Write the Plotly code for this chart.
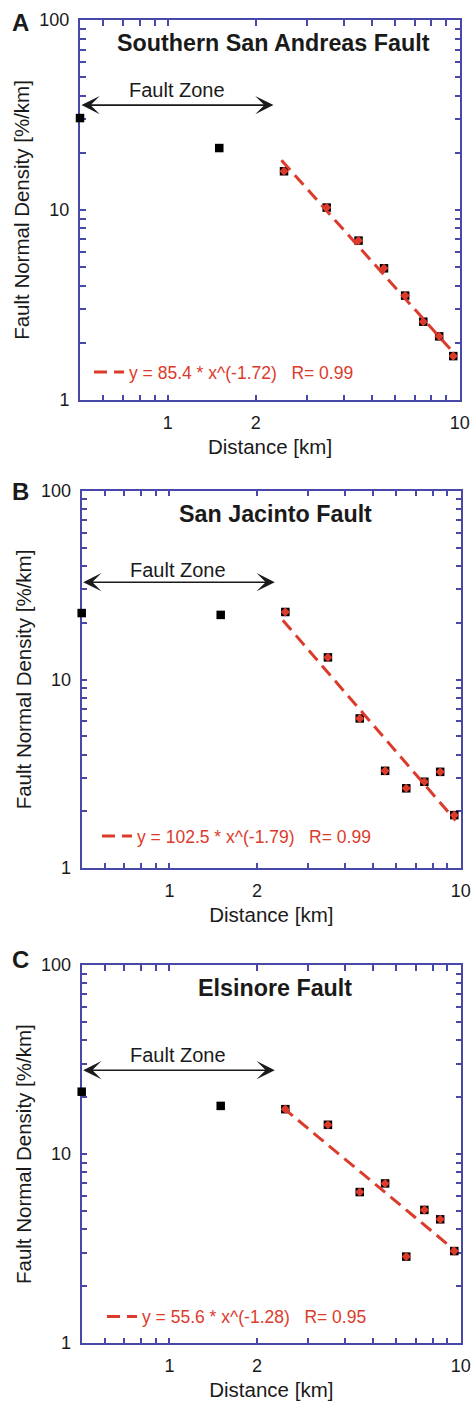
import math
import plotly.graph_objects as go

W, H = 471, 1401

# ---------------- data ----------------
distance_km = [0.5, 1.5, 2.5, 3.5, 4.5, 5.5, 6.5, 7.5, 8.5, 9.5]
density_san_andreas = [30.5, 21.2, 16.0, 10.3, 6.9, 4.93, 3.54, 2.58, 2.16, 1.70]
density_san_jacinto = [22.5, 22.0, 22.8, 13.1, 6.22, 3.28, 2.65, 2.87, 3.24, 1.91]
density_elsinore = [21.4, 18.0, 17.3, 14.3, 6.3, 7.0, 2.87, 5.07, 4.52, 3.07]
fit_start_index = 2  # points used in the fit (x >= 2.5 km)

panel_titles = ["Southern San Andreas Fault", "San Jacinto Fault", "Elsinore Fault"]
panel_letters = ["A", "B", "C"]
fit_coef = [85.4, 102.5, 55.6]
fit_exponent = [-1.72, -1.79, -1.28]
fit_r = [0.99, 0.99, 0.95]
fit_x_range = [2.45, 9.6]

fault_zone_x = [0.5, 2.3]
fault_zone_arrow_y = [35.7, 32.8, 27.8]
fault_zone_label_y = [42.8, 38.2, 33.4]

x_range = [0.5, 10]
y_range = [1, 100]
x_tick_vals = [0.6, 0.7, 0.8, 0.9, 1, 2, 3, 4, 5, 6, 7, 8, 9, 10]
x_tick_text = ["", "", "", "", "1", "2", "", "", "", "", "", "", "", "10"]
y_tick_vals = [1, 2, 3, 4, 5, 6, 7, 8, 9, 10, 20, 30, 40, 50, 60, 70, 80, 90, 100]
y_tick_text = ["1", "", "", "", "", "", "", "", "", "10", "", "", "", "", "", "", "", "", "100"]

densities = [density_san_andreas, density_san_jacinto, density_elsinore]

# ---------------- layout geometry (pixels) ----------------
boxes = [(80, 460, 20, 400), (81.7, 461, 490.7, 868.3), (81.7, 461, 965, 1343.3)]
legend_text_px = [(130, 372), (138, 836), (143, 1316.7)]
letter_px = [(20, 22), (20, 491), (20, 960)]

FONT = "Liberation Sans, Arial, Helvetica, sans-serif"
BLUE = "#4848a8"
RED = "#dc3b2c"
INK = "#1a1a1a"
EPS = 0.0008  # keeps edge tick labels (100, 10) inside the range


def px_x(p):
    return p / W


def px_y(p):
    return 1 - p / H


fig = go.Figure()
layout = dict(
    width=W, height=H,
    margin=dict(l=0, r=0, t=0, b=0),
    paper_bgcolor="white", plot_bgcolor="white",
    font=dict(family=FONT, color=INK),
    showlegend=True,
    annotations=[],
)

for i in range(3):
    sfx = "" if i == 0 else str(i + 1)
    xa, ya = "x" + sfx, "y" + sfx
    x0, x1, y0, y1 = boxes[i]
    dens = densities[i]

    # all points: black squares
    fig.add_trace(go.Scatter(
        x=distance_km, y=dens, mode="markers", xaxis=xa, yaxis=ya,
        marker=dict(symbol="square", size=8.5, color="black"),
        showlegend=False, cliponaxis=False, hoverinfo="x+y"))

    # fit line
    fx = fit_x_range
    fy = [fit_coef[i] * v ** fit_exponent[i] for v in fx]
    fig.add_trace(go.Scatter(
        x=fx, y=fy, mode="lines", xaxis=xa, yaxis=ya,
        line=dict(color=RED, width=3, dash="13px,7px"),
        name=f"y = {fit_coef[i]} * x^({fit_exponent[i]})   R= {fit_r[i]}",
        legend="legend" + sfx, showlegend=True))

    # fitted points: red diamonds
    fig.add_trace(go.Scatter(
        x=distance_km[fit_start_index:], y=dens[fit_start_index:], mode="markers",
        xaxis=xa, yaxis=ya,
        marker=dict(symbol="diamond", size=7, color=RED),
        showlegend=False, cliponaxis=False, hoverinfo="skip"))

    axis_common = dict(
        type="log", showline=True, linecolor=BLUE, linewidth=2, mirror="ticks",
        ticks="inside", ticklen=5.5, tickwidth=1.5, tickcolor=BLUE,
        showgrid=False, zeroline=False, automargin=False, layer="below traces",
        tickfont=dict(size=18, color=INK, family=FONT),
    )
    layout["xaxis" + sfx] = dict(
        axis_common,
        domain=[px_x(x0), px_x(x1)], anchor=ya,
        range=[math.log10(x_range[0]), math.log10(x_range[1]) + EPS],
        tickmode="array", tickvals=x_tick_vals, ticktext=x_tick_text,
        ticklabelstandoff=5,
        title=dict(text="Distance [km]", font=dict(size=20.5, color=INK, family=FONT), standoff=8),
    )
    layout["yaxis" + sfx] = dict(
        axis_common,
        domain=[px_y(y1), px_y(y0)], anchor=xa,
        range=[math.log10(y_range[0]) - EPS, math.log10(y_range[1]) + EPS],
        tickmode="array", tickvals=y_tick_vals, ticktext=y_tick_text,
        ticklabelstandoff=5,
        title=dict(text="Fault Normal Density [%/km]", font=dict(size=20.5, color=INK, family=FONT), standoff=4),
    )

    tx, ty = legend_text_px[i]
    layout["legend" + sfx] = dict(
        x=px_x(tx - 41), y=px_y(ty), xanchor="left", yanchor="middle",
        bgcolor="rgba(0,0,0,0)", borderwidth=0,
        font=dict(size=17.5, color=RED, family=FONT),
        itemclick=False, itemdoubleclick=False,
    )

    # panel title
    layout["annotations"].append(dict(
        text=f"<b>{panel_titles[i]}</b>", xref=xa + " domain", yref=ya + " domain",
        x=0.51, y=1 - 23 / (y1 - y0), xanchor="center", yanchor="middle",
        showarrow=False, font=dict(size=23.3, color=INK, family=FONT)))

    # panel letter
    lx, ly = letter_px[i]
    layout["annotations"].append(dict(
        text=f"<b>{panel_letters[i]}</b>", xref="paper", yref="paper",
        x=px_x(lx), y=px_y(ly), xanchor="center", yanchor="middle",
        showarrow=False, font=dict(size=24, color=INK, family=FONT)))

    # fault zone arrow (double headed)
    lg = math.log10
    layout["annotations"].append(dict(
        text="", xref=xa, yref=ya, axref=xa, ayref=ya,
        x=lg(fault_zone_x[1]), y=lg(fault_zone_arrow_y[i]),
        ax=lg(fault_zone_x[0]), ay=lg(fault_zone_arrow_y[i]),
        showarrow=True, arrowhead=3, arrowsize=1.9, arrowwidth=1.6, arrowcolor=INK,
        startarrowhead=3, startarrowsize=1.9, arrowside="end+start",
        standoff=0, startstandoff=0))
    layout["annotations"].append(dict(
        text="Fault Zone", xref=xa, yref=ya,
        x=(lg(fault_zone_x[0]) + lg(fault_zone_x[1])) / 2, y=lg(fault_zone_label_y[i]),
        xanchor="center", yanchor="middle", showarrow=False,
        font=dict(size=20, color=INK, family=FONT)))

fig.update_layout(**layout)
fig.write_html("out.html")
